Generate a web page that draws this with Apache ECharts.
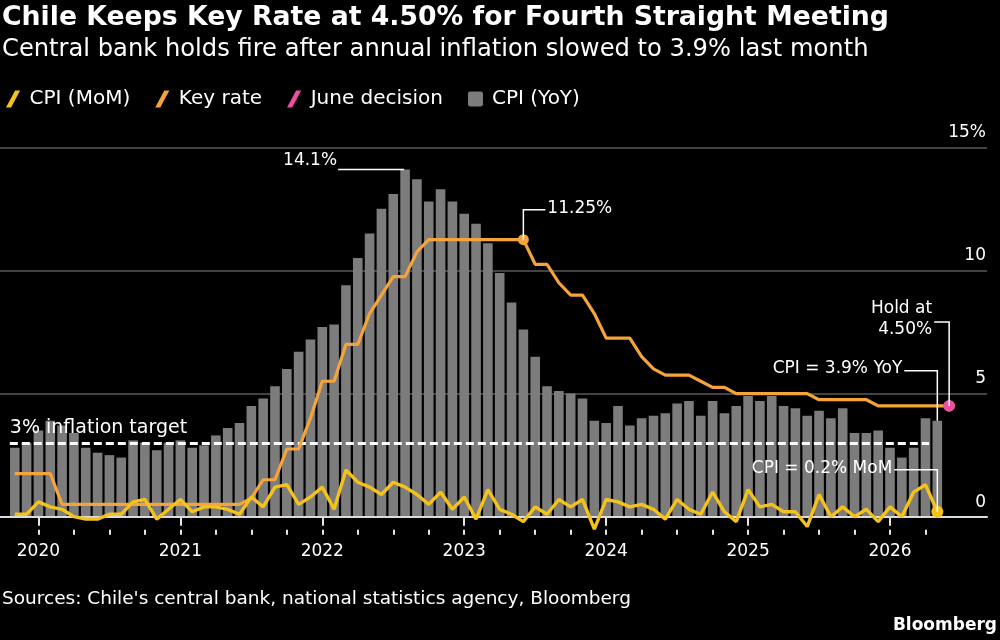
<!DOCTYPE html>
<html>
<head>
<meta charset="utf-8">
<script src="https://cdn.jsdelivr.net/npm/echarts@6/dist/echarts.min.js"></script>
<style>
  html, body { margin: 0; padding: 0; background: #000; }
  #main { width: 1000px; height: 640px; }
</style>
</head>
<body>
<div id="main"></div>
<script>
// monthly points, Nov 2019 .. Jun 2026
const months = [
  'Nov 2019', 'Dec 2019',
  'Jan 2020', 'Feb 2020', 'Mar 2020', 'Apr 2020', 'May 2020', 'Jun 2020', 'Jul 2020', 'Aug 2020', 'Sep 2020', 'Oct 2020', 'Nov 2020', 'Dec 2020',
  'Jan 2021', 'Feb 2021', 'Mar 2021', 'Apr 2021', 'May 2021', 'Jun 2021', 'Jul 2021', 'Aug 2021', 'Sep 2021', 'Oct 2021', 'Nov 2021', 'Dec 2021',
  'Jan 2022', 'Feb 2022', 'Mar 2022', 'Apr 2022', 'May 2022', 'Jun 2022', 'Jul 2022', 'Aug 2022', 'Sep 2022', 'Oct 2022', 'Nov 2022', 'Dec 2022',
  'Jan 2023', 'Feb 2023', 'Mar 2023', 'Apr 2023', 'May 2023', 'Jun 2023', 'Jul 2023', 'Aug 2023', 'Sep 2023', 'Oct 2023', 'Nov 2023', 'Dec 2023',
  'Jan 2024', 'Feb 2024', 'Mar 2024', 'Apr 2024', 'May 2024', 'Jun 2024', 'Jul 2024', 'Aug 2024', 'Sep 2024', 'Oct 2024', 'Nov 2024', 'Dec 2024',
  'Jan 2025', 'Feb 2025', 'Mar 2025', 'Apr 2025', 'May 2025', 'Jun 2025', 'Jul 2025', 'Aug 2025', 'Sep 2025', 'Oct 2025', 'Nov 2025', 'Dec 2025',
  'Jan 2026', 'Feb 2026', 'Mar 2026', 'Apr 2026', 'May 2026', 'Jun 2026'
];

// CPI YoY %, Nov 2019 .. May 2026
const cpiYoY = [
  2.8, 3.0,
  3.5, 3.9, 3.7, 3.4, 2.8, 2.6, 2.5, 2.4, 3.1, 3.0, 2.7, 3.0,
  3.1, 2.8, 2.9, 3.3, 3.6, 3.8, 4.5, 4.8, 5.3, 6.0, 6.7, 7.2,
  7.7, 7.8, 9.4, 10.5, 11.5, 12.5, 13.1, 14.1, 13.7, 12.8, 13.3, 12.8,
  12.3, 11.9, 11.1, 9.9, 8.7, 7.6, 6.5, 5.3, 5.1, 5.0, 4.8, 3.9,
  3.8, 4.5, 3.7, 4.0, 4.1, 4.2, 4.6, 4.7, 4.1, 4.7, 4.2, 4.5,
  4.9, 4.7, 4.9, 4.5, 4.4, 4.1, 4.3, 4.0, 4.4, 3.4, 3.4, 3.5,
  2.8, 2.4, 2.8, 4.0, 3.9
];

// CPI MoM %, Nov 2019 .. May 2026
const cpiMoM = [
  0.1, 0.1,
  0.6, 0.4, 0.3, 0.0, -0.1, -0.1, 0.1, 0.1, 0.6, 0.7, -0.1, 0.3,
  0.7, 0.2, 0.4, 0.4, 0.3, 0.1, 0.8, 0.4, 1.2, 1.3, 0.5, 0.8,
  1.2, 0.3, 1.9, 1.4, 1.2, 0.9, 1.4, 1.2, 0.9, 0.5, 1.0, 0.3,
  0.8, -0.1, 1.1, 0.3, 0.1, -0.2, 0.4, 0.1, 0.7, 0.4, 0.7, -0.5,
  0.7, 0.6, 0.4, 0.5, 0.3, -0.1, 0.7, 0.3, 0.1, 1.0, 0.2, -0.2,
  1.1, 0.4, 0.5, 0.2, 0.2, -0.4, 0.9, 0.0, 0.4, 0.0, 0.3, -0.2,
  0.4, 0.0, 1.0, 1.3, 0.2
];

// monetary policy rate %, Nov 2019 .. Jun 2026
const keyRate = [
  1.75, 1.75,
  1.75, 1.75, 0.5, 0.5, 0.5, 0.5, 0.5, 0.5, 0.5, 0.5, 0.5, 0.5,
  0.5, 0.5, 0.5, 0.5, 0.5, 0.5, 0.75, 1.5, 1.5, 2.75, 2.75, 4.0,
  5.5, 5.5, 7.0, 7.0, 8.25, 9.0, 9.75, 9.75, 10.75, 11.25, 11.25, 11.25,
  11.25, 11.25, 11.25, 11.25, 11.25, 11.25, 10.25, 10.25, 9.5, 9.0, 9.0, 8.25,
  7.25, 7.25, 7.25, 6.5, 6.0, 5.75, 5.75, 5.75, 5.5, 5.25, 5.25, 5.0,
  5.0, 5.0, 5.0, 5.0, 5.0, 5.0, 4.75, 4.75, 4.75, 4.75, 4.75, 4.5,
  4.5, 4.5, 4.5, 4.5, 4.5, 4.5
];

const juneDecision = 4.5;
const inflationTarget = 3;
const yearLabels = ['2020', '2021', '2022', '2023', '2024', '2025', '2026'];
const quarterMonths = ['Jan', 'Apr', 'Jul', 'Oct'];
const yTicks = [0, 5, 10, 15];

const FONT = '"DejaVu Sans", sans-serif';
const YELLOW = '#f3c21c';
const ORANGE = '#f5a33b';
const PINK = '#ee4fa0';
const GRAY = '#7c7c7c';
const SLASH = 'path://M0,15 L8,0 L12.5,0 L4.5,15 Z';
const SQUARE = 'path://M2,0 H12 Q14,0 14,2 V12 Q14,14 12,14 H2 Q0,14 0,12 V2 Q0,0 2,0 Z';

const yearIdx = yearLabels.map(y => months.indexOf('Jan ' + y));
const quarterIdx = months.map((m, i) => quarterMonths.includes(m.slice(0, 3)) ? i : -1).filter(i => i >= 0 && i < cpiYoY.length);
const lastObs = cpiYoY.length - 1;
const decisionIdx = months.indexOf('Jun 2026');

var chart = echarts.init(document.getElementById('main'));

const xBase = { type: 'value', min: -1.25, max: 82.2, splitLine: { show: false }, position: 'bottom' };

chart.setOption({
  backgroundColor: '#000',
  animation: false,
  title: [
    { text: 'Chile Keeps Key Rate at 4.50% for Fourth Straight Meeting', left: 2, top: 5, padding: 0,
      textStyle: { color: '#fff', fontSize: 26.7, fontWeight: 'bold', fontFamily: FONT } },
    { text: 'Central bank holds fire after annual inflation slowed to 3.9% last month', left: 2, top: 38, padding: 0,
      textStyle: { color: '#fff', fontSize: 24.2, fontWeight: 'normal', fontFamily: FONT } },
    { text: "Sources: Chile's central bank, national statistics agency, Bloomberg", left: 2, top: 590, padding: 0,
      textStyle: { color: '#fff', fontSize: 18.5, fontWeight: 'normal', fontFamily: FONT } },
    { text: 'Bloomberg', right: 3, top: 617, padding: 0,
      textStyle: { color: '#fff', fontSize: 17, fontWeight: 'bold', fontFamily: FONT } }
  ],
  legend: {
    left: 1, top: 84, itemWidth: 15, itemHeight: 17, itemGap: 25,
    selectedMode: false,
    textStyle: { color: '#fff', fontSize: 20, fontFamily: FONT, padding: [0, 0, 0, 4] },
    data: [
      { name: 'CPI (MoM)', icon: SLASH },
      { name: 'Key rate', icon: SLASH },
      { name: 'June decision', icon: SLASH },
      { name: 'CPI (YoY)', icon: SQUARE }
    ]
  },
  grid: { left: 0, right: 13, top: 147.3, bottom: 123.3 },
  xAxis: [
    Object.assign({}, xBase, {
      offset: 13, axisLine: { show: false },
      axisTick: { show: true, customValues: yearIdx, length: 9, lineStyle: { color: '#e6e6e6', width: 2 } },
      axisLabel: { customValues: yearIdx, formatter: v => months[v].slice(-4), color: '#fff', fontSize: 17, margin: 13, fontFamily: FONT }
    }),
    Object.assign({}, xBase, {
      offset: 13, axisLine: { show: false },
      axisTick: { show: true, customValues: quarterIdx, length: 5, lineStyle: { color: '#e6e6e6', width: 2 } },
      axisLabel: { show: false }
    }),
    Object.assign({}, xBase, {
      offset: 0, z: 3,
      axisLine: { show: true, lineStyle: { color: '#dcdcdc', width: 2 } },
      axisTick: { show: false }, axisLabel: { show: false }
    })
  ],
  yAxis: {
    type: 'value', position: 'right', min: yTicks[0], max: yTicks[yTicks.length - 1], interval: 5,
    axisLine: { show: false }, axisTick: { show: false },
    axisLabel: {
      inside: true, margin: 1, verticalAlign: 'bottom', padding: [0, 0, 6, 0],
      color: '#fff', fontSize: 17, fontFamily: FONT,
      formatter: v => v === 15 ? '15%' : String(v)
    },
    splitLine: { lineStyle: { color: '#595959', width: 1.5 } }
  },
  series: [
    {
      name: 'CPI (YoY)', type: 'bar', barWidth: 9.6, z: 2,
      itemStyle: { color: GRAY },
      data: cpiYoY.map((v, i) => [i, v]),
      markLine: {
        silent: true, symbol: 'none', z: 3,
        lineStyle: { color: '#fff', width: 3, type: [8, 4] },
        label: { show: true, position: 'insideStartTop', formatter: '3% inflation target', color: '#fff', fontSize: 19, fontFamily: FONT, distance: [0, 5] },
        data: [[{ coord: [-0.42, inflationTarget] }, { coord: [decisionIdx - 1.7, inflationTarget] }]]
      }
    },
    {
      name: 'Key rate', type: 'line', z: 4, clip: false,
      symbol: 'none', lineStyle: { color: ORANGE, width: 3.2 }, itemStyle: { color: ORANGE },
      data: keyRate.map((v, i) => [i, v]),
      markPoint: {
        symbol: 'circle', symbolSize: 11, label: { show: false }, itemStyle: { color: ORANGE },
        data: [{ coord: [keyRate.lastIndexOf(Math.max(...keyRate)), Math.max(...keyRate)] }]
      }
    },
    {
      name: 'CPI (MoM)', type: 'line', z: 5, clip: false,
      symbol: 'none', lineStyle: { color: YELLOW, width: 3.4 }, itemStyle: { color: YELLOW },
      data: cpiMoM.map((v, i) => [i, v]),
      markPoint: {
        symbol: 'circle', symbolSize: 12, label: { show: false }, itemStyle: { color: YELLOW },
        data: [{ coord: [lastObs, cpiMoM[lastObs]] }]
      }
    },
    {
      name: 'June decision', type: 'scatter', z: 6, symbolSize: 12,
      itemStyle: { color: PINK, opacity: 1 },
      data: [[decisionIdx, juneDecision]]
    }
  ]
});

// annotations with leader lines, placed from data points
const px = (i, v) => chart.convertToPixel({ seriesIndex: 0 }, [i, v]);
const leader = pts => ({ type: 'polyline', z: 20, shape: { points: pts }, style: { stroke: '#fff', lineWidth: 1.5, fill: null } });
const note = (text, x, y, align) => ({ type: 'text', z: 20, x: x, y: y,
  style: { text: text, fill: '#fff', font: '17px ' + FONT, align: align, verticalAlign: 'middle', lineHeight: 21 } });

const peakIdx = cpiYoY.indexOf(Math.max(...cpiYoY));
const pk = px(peakIdx, cpiYoY[peakIdx]);
const rateMax = Math.max(...keyRate);
const rp = px(keyRate.lastIndexOf(rateMax), rateMax);
const hp = px(decisionIdx, juneDecision);
const cp = px(lastObs, cpiYoY[lastObs]);
const mp = px(lastObs, cpiMoM[lastObs]);

chart.setOption({
  graphic: [
    leader([[pk[0] - 67, pk[1]], [pk[0] - 1, pk[1]]]),
    note(cpiYoY[peakIdx].toFixed(1) + '%', pk[0] - 68, pk[1] - 9, 'right'),
    leader([[rp[0], rp[1]], [rp[0], rp[1] - 30], [rp[0] + 22, rp[1] - 30]]),
    note(rateMax.toFixed(2) + '%', rp[0] + 24, rp[1] - 31, 'left'),
    leader([[hp[0], hp[1]], [hp[0], hp[1] - 84], [hp[0] - 15, hp[1] - 84]]),
    note('Hold at\n' + juneDecision.toFixed(2) + '%', hp[0] - 17, hp[1] - 87, 'right'),
    leader([[cp[0], cp[1]], [cp[0], cp[1] - 50], [cp[0] - 33, cp[1] - 50]]),
    note('CPI = ' + cpiYoY[lastObs].toFixed(1) + '% YoY', cp[0] - 35, cp[1] - 52, 'right'),
    leader([[mp[0], mp[1]], [mp[0], mp[1] - 42], [mp[0] - 43, mp[1] - 42]]),
    note('CPI = ' + cpiMoM[lastObs].toFixed(1) + '% MoM', mp[0] - 45, mp[1] - 43, 'right')
  ]
});
</script>
</body>
</html>
